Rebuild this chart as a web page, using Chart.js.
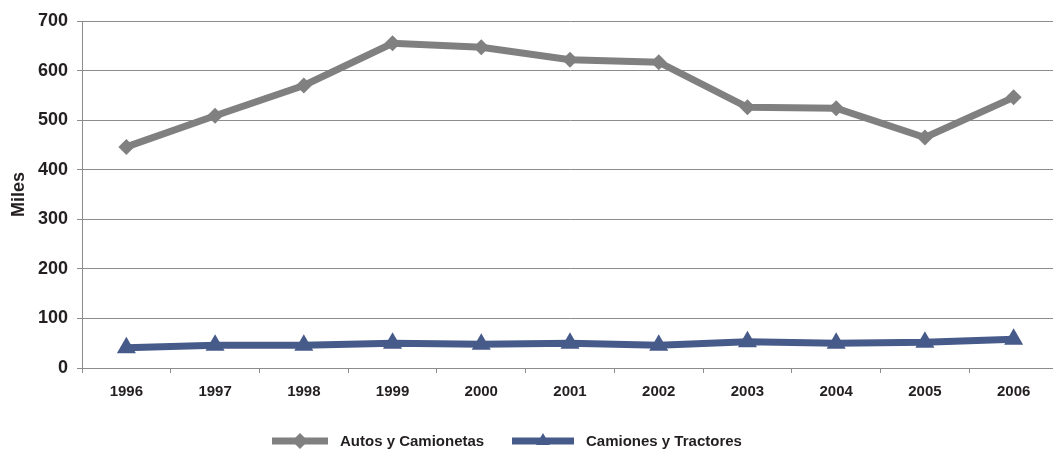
<!DOCTYPE html>
<html>
<head>
<meta charset="utf-8">
<script src="https://cdn.jsdelivr.net/npm/chart.js@4.4.1/dist/chart.umd.min.js"></script>
<style>
  html, body { margin: 0; padding: 0; background: #fff; overflow: hidden; }
  #wrap { width: 1053px; height: 453px; overflow: hidden; position: relative; }
  #wrap canvas { position: absolute; left: 0; top: 0; }
</style>
</head>
<body>
<div id="wrap">
  <canvas id="miChart" width="1069" height="453" style="width:1069px;height:453px"></canvas>
</div>
<script>
// años
const years = ['1996', '1997', '1998', '1999', '2000', '2001', '2002', '2003', '2004', '2005', '2006'];
// miles de unidades
const autosCamionetas = [446, 509, 570, 655, 647, 622, 617, 526, 524, 465, 546];
const camionesTractores = [41, 46, 46, 50, 48, 50, 46, 53, 50, 52, 58];
const yTicks = [0, 100, 200, 300, 400, 500, 600, 700];

const GRIS = '#808080';
const AZUL = '#475b8a';
const REJILLA = '#8c8c8c';

// leyenda dibujada a mano (linea + marcador)
const leyendaPlugin = {
  id: 'leyenda',
  afterDraw(chart) {
    const ctx = chart.ctx;
    const items = [
      { x: 272, w: 56, tx: 340, r: 8 },
      { x: 512, w: 62, tx: 586, r: 8 }
    ];
    const y = 441;
    ctx.save();
    chart.data.datasets.forEach((ds, i) => {
      const it = items[i];
      ctx.strokeStyle = ds.borderColor;
      ctx.lineWidth = 7;
      ctx.beginPath();
      ctx.moveTo(it.x, y);
      ctx.lineTo(it.x + it.w, y);
      ctx.stroke();
      ctx.fillStyle = ds.borderColor;
      ctx.lineWidth = 0;
      Chart.helpers.drawPoint(ctx, { pointStyle: ds.pointStyle, radius: it.r, borderWidth: 0 }, it.x + it.w / 2, y);
      ctx.fillStyle = '#231f20';
      ctx.font = 'bold 15px "Liberation Sans", Arial, sans-serif';
      ctx.textBaseline = 'middle';
      ctx.textAlign = 'left';
      ctx.fillText(ds.label, it.tx, y + 1);
    });
    ctx.restore();
  }
};

new Chart(document.getElementById('miChart'), {
  type: 'line',
  data: {
    labels: years,
    datasets: [
      {
        label: 'Autos y Camionetas',
        data: autosCamionetas,
        borderColor: GRIS,
        backgroundColor: GRIS,
        borderWidth: 7,
        pointStyle: 'rectRot',
        pointRadius: 8,
        pointBorderWidth: 0,
        tension: 0,
        fill: false
      },
      {
        label: 'Camiones y Tractores',
        data: camionesTractores,
        borderColor: AZUL,
        backgroundColor: AZUL,
        borderWidth: 7,
        pointStyle: 'triangle',
        pointRadius: 11,
        pointBorderWidth: 0,
        tension: 0,
        fill: false
      }
    ]
  },
  options: {
    responsive: false,
    animation: false,
    layout: { padding: { top: 21, right: 1, bottom: 42, left: 0 } },
    plugins: {
      legend: { display: false },
      tooltip: { enabled: false }
    },
    scales: {
      x: {
        offset: true,
        grid: {
          offset: true,
          drawOnChartArea: false,
          drawTicks: true,
          tickLength: 5,
          color: REJILLA
        },
        border: { color: REJILLA, width: 1 },
        ticks: {
          color: '#231f20',
          padding: 10,
          maxRotation: 0,
          font: { family: '"Liberation Sans", Arial, sans-serif', size: 15, weight: 'bold' }
        }
      },
      y: {
        min: 0,
        max: 700,
        afterFit(scale) { scale.width = 82; },
        afterBuildTicks(scale) { scale.ticks = yTicks.map(v => ({ value: v })); },
        grid: { color: REJILLA, tickLength: 5 },
        border: { color: REJILLA, width: 1 },
        ticks: {
          color: '#231f20',
          padding: 9,
          font: { family: '"Liberation Sans", Arial, sans-serif', size: 18, weight: 'bold' }
        },
        title: {
          display: true,
          text: 'Miles',
          color: '#231f20',
          padding: { top: 8, bottom: 0 },
          font: { family: '"Liberation Sans", Arial, sans-serif', size: 18, weight: 'bold' }
        }
      }
    }
  },
  plugins: [leyendaPlugin]
});
</script>
</body>
</html>
